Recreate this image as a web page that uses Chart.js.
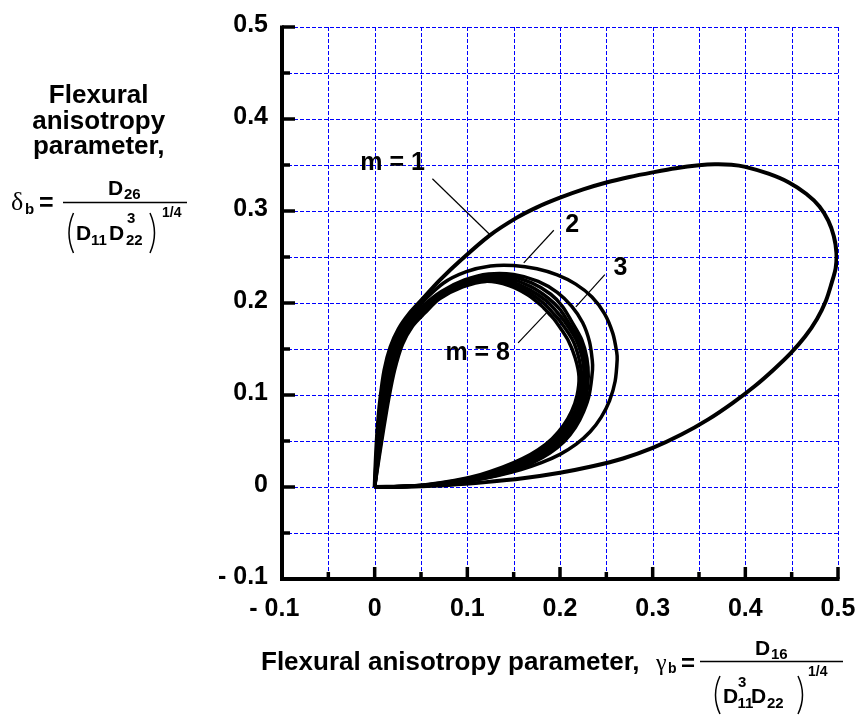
<!DOCTYPE html>
<html>
<head>
<meta charset="utf-8">
<script src="https://cdn.jsdelivr.net/npm/chart.js@4.4.1/dist/chart.umd.min.js"></script>
<style>
  html, body { margin: 0; padding: 0; background: #fff; }
  canvas { display: block; }
</style>
</head>
<body>
<canvas id="chart" width="865" height="715"></canvas>
<script>
// Axis tick values and their printed labels
const xTickValues = [-0.1, 0, 0.1, 0.2, 0.3, 0.4, 0.5];
const xTickLabels = ['- 0.1', '0', '0.1', '0.2', '0.3', '0.4', '0.5'];
const yTickValues = [-0.1, 0, 0.1, 0.2, 0.3, 0.4, 0.5];
const yTickLabels = ['- 0.1', '0', '0.1', '0.2', '0.3', '0.4', '0.5'];

// Stability boundaries (gamma_b, delta_b) for m = 1 ... 8 half-waves
const loopM1 = [[0,0],[0.0012,0.03],[0.003,0.062],[0.006,0.095],[0.0105,0.127],[0.017,0.152],[0.026,0.172],[0.037,0.188],[0.05,0.2025],[0.07,0.2245],[0.094,0.2475],[0.1242,0.2735],[0.153,0.2925],[0.175,0.304],[0.2,0.3145],[0.225,0.3235],[0.25,0.331],[0.275,0.337],[0.3,0.342],[0.325,0.3465],[0.35,0.3497],[0.367,0.3508],[0.385,0.3503],[0.4,0.348],[0.425,0.3405],[0.447,0.331],[0.466,0.3185],[0.48,0.305],[0.4895,0.2895],[0.4955,0.2725],[0.4983,0.2545],[0.4975,0.238],[0.4932,0.2219],[0.487,0.2025],[0.4775,0.183],[0.4645,0.1635],[0.449,0.1455],[0.4305,0.1275],[0.41,0.1095],[0.3865,0.0915],[0.36,0.0735],[0.331,0.057],[0.3,0.0425],[0.268,0.031],[0.235,0.0225],[0.2,0.0155],[0.16,0.0095],[0.12,0.0053],[0.08,0.0022],[0.04,0.0006],[0,0]];
const loopM2 = [[0,0],[0.0016,0.03],[0.0038,0.062],[0.0068,0.095],[0.0113,0.127],[0.0185,0.152],[0.028,0.171],[0.038,0.186],[0.05,0.1995],[0.074,0.2215],[0.099,0.234],[0.125,0.2402],[0.15,0.2407],[0.175,0.2372],[0.197,0.2305],[0.217,0.2205],[0.2345,0.2065],[0.248,0.1885],[0.257,0.167],[0.2612,0.1465],[0.2617,0.1384],[0.2595,0.115],[0.2535,0.094],[0.2445,0.076],[0.2325,0.06],[0.2175,0.0465],[0.2,0.0355],[0.18,0.0265],[0.158,0.019],[0.133,0.0125],[0.105,0.007],[0.075,0.003],[0.04,0.0008],[0,0]];
const loopM3 = [[0,0],[0.0022,0.03],[0.0048,0.062],[0.0083,0.095],[0.0132,0.127],[0.0205,0.152],[0.03,0.1705],[0.04,0.1845],[0.0515,0.1965],[0.072,0.2125],[0.097,0.225],[0.123,0.2315],[0.15,0.231],[0.1765,0.2235],[0.197,0.2115],[0.2125,0.1965],[0.2245,0.1785],[0.2318,0.158],[0.2348,0.138],[0.2351,0.1275],[0.2315,0.1],[0.2255,0.082],[0.2165,0.0645],[0.2045,0.0495],[0.189,0.037],[0.1705,0.0265],[0.149,0.0175],[0.123,0.0105],[0.093,0.0052],[0.06,0.0017],[0.03,0.0004],[0,0]];
const loopM4 = [[0,0],[0.0027,0.03],[0.0058,0.062],[0.0096,0.095],[0.015,0.127],[0.023,0.155],[0.0345,0.1775],[0.051,0.1955],[0.07,0.2095],[0.095,0.222],[0.12,0.2292],[0.145,0.229],[0.17,0.2215],[0.19,0.2095],[0.2025,0.1965],[0.2125,0.18],[0.2235,0.16],[0.229,0.14],[0.2305,0.12],[0.2285,0.1],[0.223,0.082],[0.2145,0.0655],[0.203,0.051],[0.1885,0.0385],[0.171,0.028],[0.15,0.019],[0.125,0.0115],[0.095,0.0058],[0.06,0.002],[0.03,0.0005],[0,0]];
const loopM5 = [[0,0],[0.0031,0.03],[0.0067,0.062],[0.0109,0.095],[0.0166,0.127],[0.0248,0.155],[0.036,0.1768],[0.052,0.1935],[0.07,0.2083],[0.095,0.221],[0.12,0.2278],[0.145,0.2265],[0.168,0.218],[0.187,0.2055],[0.1995,0.1935],[0.2085,0.18],[0.2205,0.16],[0.2266,0.14],[0.2285,0.12],[0.2265,0.1],[0.221,0.082],[0.2122,0.0658],[0.2006,0.0514],[0.186,0.039],[0.1685,0.0286],[0.1475,0.0196],[0.1225,0.012],[0.0925,0.0061],[0.059,0.0021],[0.0295,0.0005],[0,0]];
const loopM6 = [[0,0],[0.0035,0.03],[0.0076,0.062],[0.0122,0.095],[0.0182,0.127],[0.0265,0.155],[0.0375,0.1762],[0.0525,0.1918],[0.07,0.207],[0.095,0.2198],[0.12,0.2264],[0.145,0.224],[0.167,0.2145],[0.185,0.2025],[0.1965,0.1905],[0.205,0.18],[0.2175,0.16],[0.2241,0.14],[0.2262,0.12],[0.2242,0.1],[0.2188,0.082],[0.21,0.0661],[0.1982,0.0518],[0.1835,0.0395],[0.1662,0.0292],[0.1452,0.0203],[0.1205,0.0125],[0.0905,0.0064],[0.0575,0.0022],[0.0285,0.0005],[0,0]];
const loopM7 = [[0,0],[0.004,0.03],[0.0086,0.062],[0.0136,0.095],[0.0198,0.127],[0.0282,0.155],[0.0392,0.1755],[0.0532,0.1903],[0.07,0.2058],[0.095,0.2187],[0.12,0.225],[0.145,0.2215],[0.166,0.2118],[0.1825,0.1997],[0.193,0.1885],[0.2003,0.18],[0.2135,0.16],[0.2204,0.14],[0.2234,0.12],[0.2214,0.1],[0.2158,0.082],[0.2068,0.0663],[0.195,0.0521],[0.18,0.04],[0.1626,0.0298],[0.1416,0.0209],[0.1172,0.013],[0.0882,0.0067],[0.056,0.0023],[0.028,0.0006],[0,0]];
const loopM8 = [[0,0],[0.0045,0.03],[0.0095,0.062],[0.015,0.095],[0.0215,0.127],[0.03,0.155],[0.041,0.175],[0.054,0.189],[0.07,0.2045],[0.095,0.2175],[0.12,0.2235],[0.145,0.219],[0.165,0.209],[0.18,0.197],[0.189,0.1875],[0.1955,0.18],[0.2085,0.16],[0.2165,0.14],[0.2205,0.12],[0.2185,0.1],[0.2125,0.082],[0.2035,0.0665],[0.1915,0.0525],[0.1765,0.0405],[0.159,0.0305],[0.138,0.0215],[0.114,0.0135],[0.086,0.007],[0.055,0.0025],[0.027,0.0006],[0,0]];

// Curve tags and the thin leader lines pointing at their curves
const tagTexts = ['m = 1', '2', '3', 'm = 8'];
const tagAnchors = [[0.0194, 0.3517], [0.2133, 0.2845], [0.2653, 0.2378], [0.1112, 0.146]];
const leaderLines = [
  [[0.0623, 0.335], [0.1242, 0.2745]],
  [[0.1933, 0.2791], [0.1609, 0.2436]],
  [[0.2484, 0.2309], [0.2171, 0.1958]],
  [[0.1548, 0.1566], [0.1854, 0.1892]]
];

const SANS = "'Liberation Sans', Arial, Helvetica, sans-serif";
const SERIF = "'Liberation Serif', 'DejaVu Serif', serif";
const GRID_BLUE = '#0000ff';
const bold = px => `bold ${px}px ${SANS}`;
const toPoints = arr => arr.map(([x, y]) => ({ x, y }));

const loops = [loopM1, loopM2, loopM3, loopM4, loopM5, loopM6, loopM7, loopM8];
const datasets = loops.map((loop, i) => ({
  label: 'm = ' + (i + 1),
  data: toPoints(loop),
  showLine: true,
  borderColor: '#000',
  borderWidth: i === 0 ? 4 : 3.5,
  pointRadius: 0,
  tension: 0.3,
  fill: false
}));
leaderLines.forEach((seg, i) => datasets.push({
  label: 'leader ' + tagTexts[i],
  data: toPoints(seg),
  showLine: true,
  borderColor: '#000',
  borderWidth: 1.2,
  pointRadius: 0,
  tension: 0,
  fill: false
}));

const isMajor = v => Math.abs(v * 10 - Math.round(v * 10)) < 1e-6;

function fillTxt(ctx, s, x, y, font, align) {
  ctx.font = font;
  ctx.textAlign = align || 'left';
  ctx.fillText(s, x, y);
}
function paren(ctx, x1, y1, y2, bulge) {
  ctx.beginPath();
  ctx.moveTo(x1, y1);
  ctx.quadraticCurveTo(x1 + bulge, (y1 + y2) / 2, x1, y2);
  ctx.stroke();
}

// Dashed blue grid at every scale tick, drawn under the curves
const dashedGrid = {
  id: 'dashedGrid',
  beforeDatasetsDraw(chart) {
    const { ctx, scales: { x, y } } = chart;
    ctx.save();
    ctx.strokeStyle = GRID_BLUE;
    ctx.lineWidth = 1;
    ctx.setLineDash([4, 2]);
    x.ticks.forEach(t => {
      const px = Math.round(x.getPixelForValue(t.value)) + 0.5;
      ctx.beginPath(); ctx.moveTo(px, y.top); ctx.lineTo(px, y.bottom); ctx.stroke();
    });
    y.ticks.forEach(t => {
      const py = Math.round(y.getPixelForValue(t.value)) + 0.5;
      ctx.beginPath(); ctx.moveTo(x.left, py); ctx.lineTo(x.right, py); ctx.stroke();
    });
    ctx.restore();
  }
};

const decorations = {
  id: 'decorations',
  afterDraw(chart) {
    const { ctx, scales: { x, y } } = chart;
    const xL = x.left, xR = x.right, yT = y.top, yB = y.bottom;
    ctx.save();
    ctx.fillStyle = '#000';
    ctx.strokeStyle = '#000';
    ctx.lineCap = 'butt';

    // axis lines
    ctx.lineWidth = 4;
    ctx.beginPath();
    ctx.moveTo(xL, yT - 1.5); ctx.lineTo(xL, yB + 2);
    ctx.moveTo(xL - 2, yB); ctx.lineTo(xR + 1.5, yB);
    ctx.stroke();

    // inward tick marks
    ctx.lineWidth = 3.5;
    y.ticks.forEach(t => {
      const py = y.getPixelForValue(t.value);
      ctx.beginPath(); ctx.moveTo(xL, py); ctx.lineTo(xL + (isMajor(t.value) ? 13 : 8), py); ctx.stroke();
    });
    x.ticks.forEach(t => {
      const px = x.getPixelForValue(t.value);
      ctx.beginPath(); ctx.moveTo(px, yB); ctx.lineTo(px, yB - (isMajor(t.value) ? 12 : 7)); ctx.stroke();
    });

    // tick labels
    ctx.textBaseline = 'middle';
    yTickValues.forEach((v, i) => {
      fillTxt(ctx, yTickLabels[i], xL - 14, y.getPixelForValue(v) - 2, bold(25), 'right');
    });
    xTickValues.forEach((v, i) => {
      const px = x.getPixelForValue(v);
      const lab = xTickLabels[i];
      if (lab.startsWith('- ')) {
        const num = lab.slice(2);
        fillTxt(ctx, num, px, yB + 30, bold(25), 'center');
        ctx.font = bold(25);
        const w = ctx.measureText(num).width;
        fillTxt(ctx, '- ', px - w / 2, yB + 30, bold(25), 'right');
      } else {
        fillTxt(ctx, lab, px, yB + 30, bold(25), 'center');
      }
    });

    // curve tags
    tagTexts.forEach((s, i) => {
      const [vx, vy] = tagAnchors[i];
      fillTxt(ctx, s, x.getPixelForValue(vx), y.getPixelForValue(vy), bold(25), 'center');
    });

    // left axis title
    ctx.textBaseline = 'alphabetic';
    fillTxt(ctx, 'Flexural', 98.7, 103, bold(26), 'center');
    fillTxt(ctx, 'anisotropy', 98.7, 128.5, bold(26), 'center');
    fillTxt(ctx, 'parameter,', 98.7, 153.5, bold(26), 'center');

    // delta_b = D26 / (D11 D22^3)^(1/4)
    fillTxt(ctx, '\u03B4', 11, 210, `26px ${SERIF}`);
    fillTxt(ctx, 'b', 25, 214, bold(15));
    fillTxt(ctx, '=', 39, 211, bold(25));
    ctx.lineWidth = 1.5;
    ctx.beginPath(); ctx.moveTo(63, 202.5); ctx.lineTo(187, 202.5); ctx.stroke();
    fillTxt(ctx, 'D', 108, 195, bold(21));
    fillTxt(ctx, '26', 124, 199, bold(15));
    paren(ctx, 73.5, 213, 253, -9);
    fillTxt(ctx, 'D', 76, 240, bold(21));
    fillTxt(ctx, '11', 91, 245, bold(15));
    fillTxt(ctx, 'D', 109, 240, bold(21));
    fillTxt(ctx, '3', 127, 223, bold(15));
    fillTxt(ctx, '22', 126, 245, bold(15));
    paren(ctx, 150, 213, 253, 9);
    fillTxt(ctx, '1/4', 162, 217, bold(14));

    // bottom axis title
    fillTxt(ctx, 'Flexural anisotropy parameter,', 261, 670, bold(26));
    fillTxt(ctx, '\u03B3', 656, 670, `24px ${SERIF}`);
    fillTxt(ctx, 'b', 668, 673, bold(14));
    fillTxt(ctx, '=', 681, 671, bold(24));
    ctx.lineWidth = 1.5;
    ctx.beginPath(); ctx.moveTo(700, 661.5); ctx.lineTo(843, 661.5); ctx.stroke();
    fillTxt(ctx, 'D', 755, 655, bold(21));
    fillTxt(ctx, '16', 771, 659, bold(15));
    paren(ctx, 720, 676, 714, -9);
    fillTxt(ctx, 'D', 723, 703, bold(21));
    fillTxt(ctx, '3', 738, 687, bold(15));
    fillTxt(ctx, '11', 737.5, 708, bold(15));
    fillTxt(ctx, 'D', 751, 703, bold(21));
    fillTxt(ctx, '22', 767, 708, bold(15));
    paren(ctx, 798, 676, 714, 9);
    fillTxt(ctx, '1/4', 808, 676, bold(14));

    ctx.restore();
  }
};

new Chart(document.getElementById('chart'), {
  type: 'scatter',
  data: { datasets },
  options: {
    responsive: false,
    animation: false,
    devicePixelRatio: 1,
    layout: { padding: { left: 282, right: 27, top: 27, bottom: 136 } },
    plugins: { legend: { display: false }, tooltip: { enabled: false } },
    scales: {
      x: {
        type: 'linear', min: -0.1, max: 0.5,
        ticks: { display: false, stepSize: 0.05 },
        grid: { display: false, drawTicks: false },
        border: { display: false }
      },
      y: {
        type: 'linear', min: -0.1, max: 0.5,
        ticks: { display: false, stepSize: 0.05 },
        grid: { display: false, drawTicks: false },
        border: { display: false }
      }
    }
  },
  plugins: [dashedGrid, decorations]
});
</script>
</body>
</html>
